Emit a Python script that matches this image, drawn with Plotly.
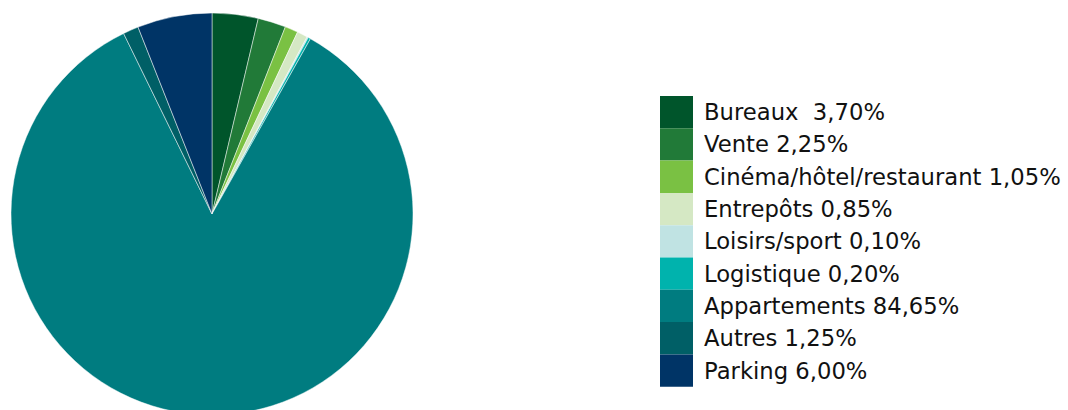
import plotly.graph_objects as go

# Répartition du patrimoine par type d'actif (%)
labels = ["Bureaux", "Vente", "Cinéma/hôtel/restaurant", "Entrepôts", "Loisirs/sport",
          "Logistique", "Appartements", "Autres", "Parking"]
values = [3.70, 2.25, 1.05, 0.85, 0.10, 0.20, 84.65, 1.25, 6.00]
legend_text = ["Bureaux\u00a0 3,70%", "Vente 2,25%", "Cinéma/hôtel/restaurant 1,05%",
               "Entrepôts 0,85%", "Loisirs/sport 0,10%", "Logistique 0,20%",
               "Appartements 84,65%", "Autres 1,25%", "Parking 6,00%"]
colors = ["#00552B", "#217A38", "#7AC143", "#D5E8C4", "#C0E3E3",
          "#00B3AD", "#007C80", "#005F66", "#003466"]

W, H = 1068, 420


def px_x(x):
    return x / W


def px_y(y):
    return 1 - y / H


fig = go.Figure()
fig.add_trace(go.Pie(
    labels=labels, values=values, sort=False, direction="clockwise", rotation=0,
    marker=dict(colors=colors, line=dict(color="rgba(255,255,255,0.6)", width=0.8)),
    textinfo="none", hoverinfo="label+percent", showlegend=False,
    domain=dict(x=[px_x(11), px_x(413)], y=[px_y(415), px_y(13)]),
))

# Légende dessinée : pavés de couleur + libellés
top, step = 96.0, 32.3
shapes, annotations = [], []
for i, (txt, col) in enumerate(zip(legend_text, colors)):
    y0 = top + i * step
    y1 = y0 + step
    shapes.append(dict(type="rect", xref="paper", yref="paper",
                       x0=px_x(660), x1=px_x(693), y0=px_y(y1), y1=px_y(y0),
                       fillcolor=col, line=dict(width=0), layer="above"))
    annotations.append(dict(xref="paper", yref="paper", x=px_x(702), y=px_y((y0 + y1) / 2),
                            xanchor="left", yanchor="middle", text=txt, showarrow=False,
                            font=dict(family="DejaVu Sans", size=22.7, color="#111111")))

fig.update_layout(
    width=W, height=H,
    margin=dict(l=0, r=0, t=0, b=0),
    paper_bgcolor="white", plot_bgcolor="white",
    shapes=shapes, annotations=annotations,
)

fig.write_html("out.html", post_script="document.documentElement.style.overflow='hidden';document.body.style.overflow='hidden';")
